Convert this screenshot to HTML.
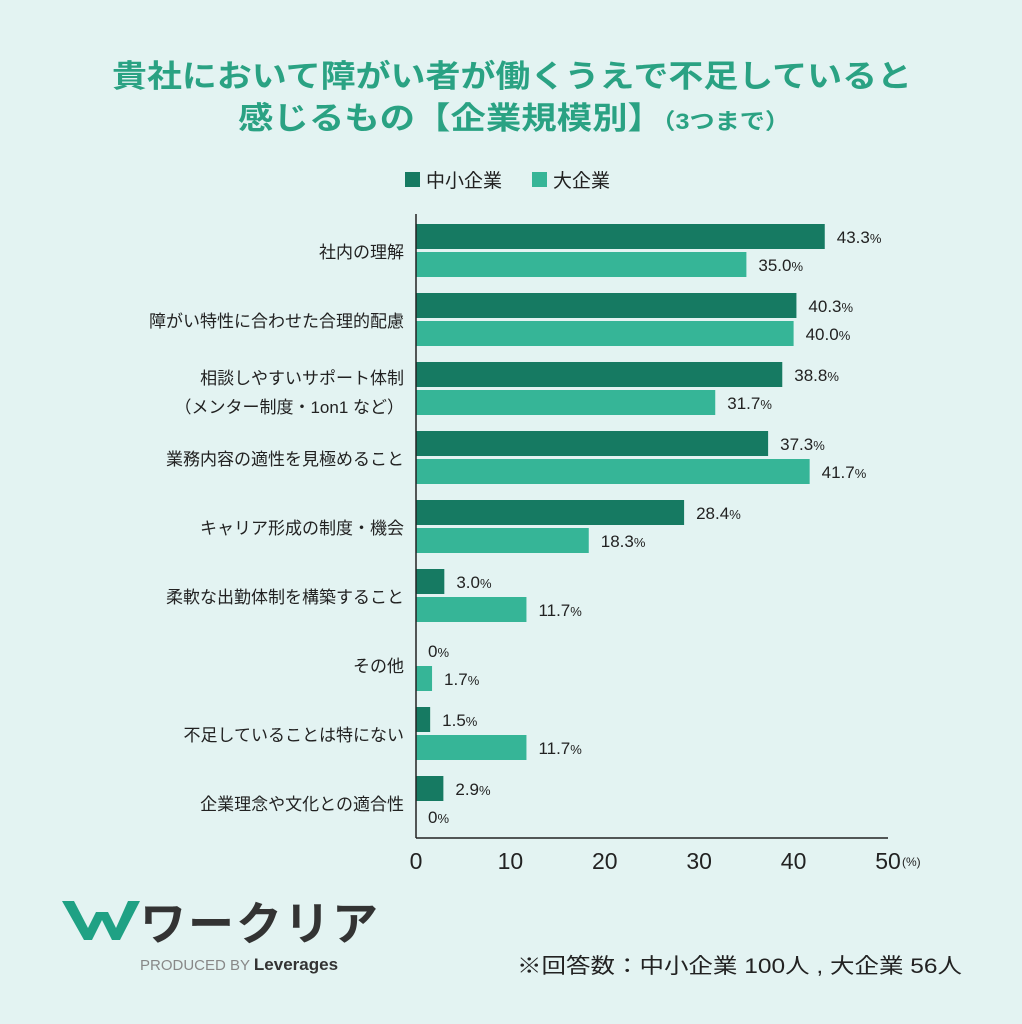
<!DOCTYPE html>
<html><head><meta charset="utf-8">
<style>
body{margin:0;background:#e3f3f2;}
svg{display:block;font-family:"Liberation Sans","Noto Sans CJK JP",sans-serif;}
</style></head>
<body>
<svg id="c" width="1022" height="1024" viewBox="0 0 1022 1024">
<rect width="1022" height="1024" fill="#e3f3f2"/>
<text x="112" y="87" font-size="31" font-weight="bold" fill="#2aa283" textLength="800" lengthAdjust="spacingAndGlyphs">貴社において障がい者が働くうえで不足していると</text>
<text x="238" y="129" font-size="31" font-weight="bold" fill="#2aa283" textLength="552" lengthAdjust="spacingAndGlyphs">感じるもの【企業規模別】<tspan font-size="22">（3つまで）</tspan></text>
<g>
<rect x="405" y="172" width="15" height="15" fill="#167a62"/>
<text x="426" y="187" font-size="19" fill="#222">中小企業</text>
<rect x="532" y="172" width="15" height="15" fill="#36b597"/>
<text x="553" y="187" font-size="19" fill="#222">大企業</text>
</g>
<g id="plot"></g>
<g>
<path d="M62 901 L74 901 L88 928 L96 912 L108 912 L116 928 L128 901 L140 901 L120 940 L112 940 L102 920 L92 940 L84 940 Z" fill="#1fa184"/>
<text x="140" y="940" font-size="46" font-weight="bold" fill="#333" letter-spacing="2">ワークリア</text>
<text x="140" y="970" font-size="15" fill="#888">PRODUCED BY <tspan fill="#333" font-weight="bold" font-size="17">Leverages</tspan></text>
</g>
<text x="517" y="973" font-size="21" fill="#222" textLength="445" lengthAdjust="spacingAndGlyphs">※回答数：中小企業 100人 , 大企業 56人</text>
</svg>
<script>
const categories=["社内の理解","障がい特性に合わせた合理的配慮","相談しやすいサポート体制|（メンター制度・1on1 など）","業務内容の適性を見極めること","キャリア形成の制度・機会","柔軟な出勤体制を構築すること","その他","不足していることは特にない","企業理念や文化との適合性"];
const smeValues=[43.3,40.3,38.8,37.3,28.4,3.0,0,1.5,2.9];
const largeValues=[35.0,40.0,31.7,41.7,18.3,11.7,1.7,11.7,0];
const smeLabels=["43.3","40.3","38.8","37.3","28.4","3.0","0","1.5","2.9"];
const largeLabels=["35.0","40.0","31.7","41.7","18.3","11.7","1.7","11.7","0"];
const xTicks=[0,10,20,30,40,50];
const NS="http://www.w3.org/2000/svg";
const g=document.getElementById('plot');
const x0=416,x1=888,xMax=50;
const xs=v=>x0+(v/xMax)*(x1-x0);
const rowTop=i=>224+i*69;
function el(t,a){const e=document.createElementNS(NS,t);for(const k in a)e.setAttribute(k,a[k]);g.appendChild(e);return e;}
categories.forEach((c,i)=>{
 const y=rowTop(i);
 const b1=el('rect',{x:x0,y:y,width:xs(smeValues[i])-x0,height:25,fill:'#167a62'});
 
 
 const b2=el('rect',{x:x0,y:y+28,width:xs(largeValues[i])-x0,height:25,fill:'#36b597'});
 
 
 const t1=el('text',{x:xs(smeValues[i])+12,y:y+19,'font-size':17,fill:'#222'});
 t1.innerHTML=smeLabels[i]+'<tspan font-size="13">%</tspan>';
 
 
 const t2=el('text',{x:xs(largeValues[i])+12,y:y+47,'font-size':17,fill:'#222'});
 t2.innerHTML=largeLabels[i]+'<tspan font-size="13">%</tspan>';
 
 
 const lines=c.split('|');
 lines.forEach((ln,j)=>{
  const yy=lines.length==1?y+34:y+22+j*29;
  const t=el('text',{x:404,y:yy,'text-anchor':'end','font-size':17,fill:'#222'});
  t.textContent=ln;
  
  
 });
});
const ax=el('line',{x1:x0,y1:214,x2:x0,y2:838,stroke:'#222','stroke-width':1.5});


const bx=el('line',{x1:x0,y1:838,x2:x1,y2:838,stroke:'#222','stroke-width':1.5});


xTicks.forEach(v=>{
 const t=el('text',{x:xs(v),y:869,'text-anchor':'middle','font-size':23,fill:'#222'});
 t.textContent=v;
 
 
});
const u=el('text',{x:xs(50)+14,y:866,'font-size':12,fill:'#222'});
u.textContent='(%)';


</script>
</body></html>
